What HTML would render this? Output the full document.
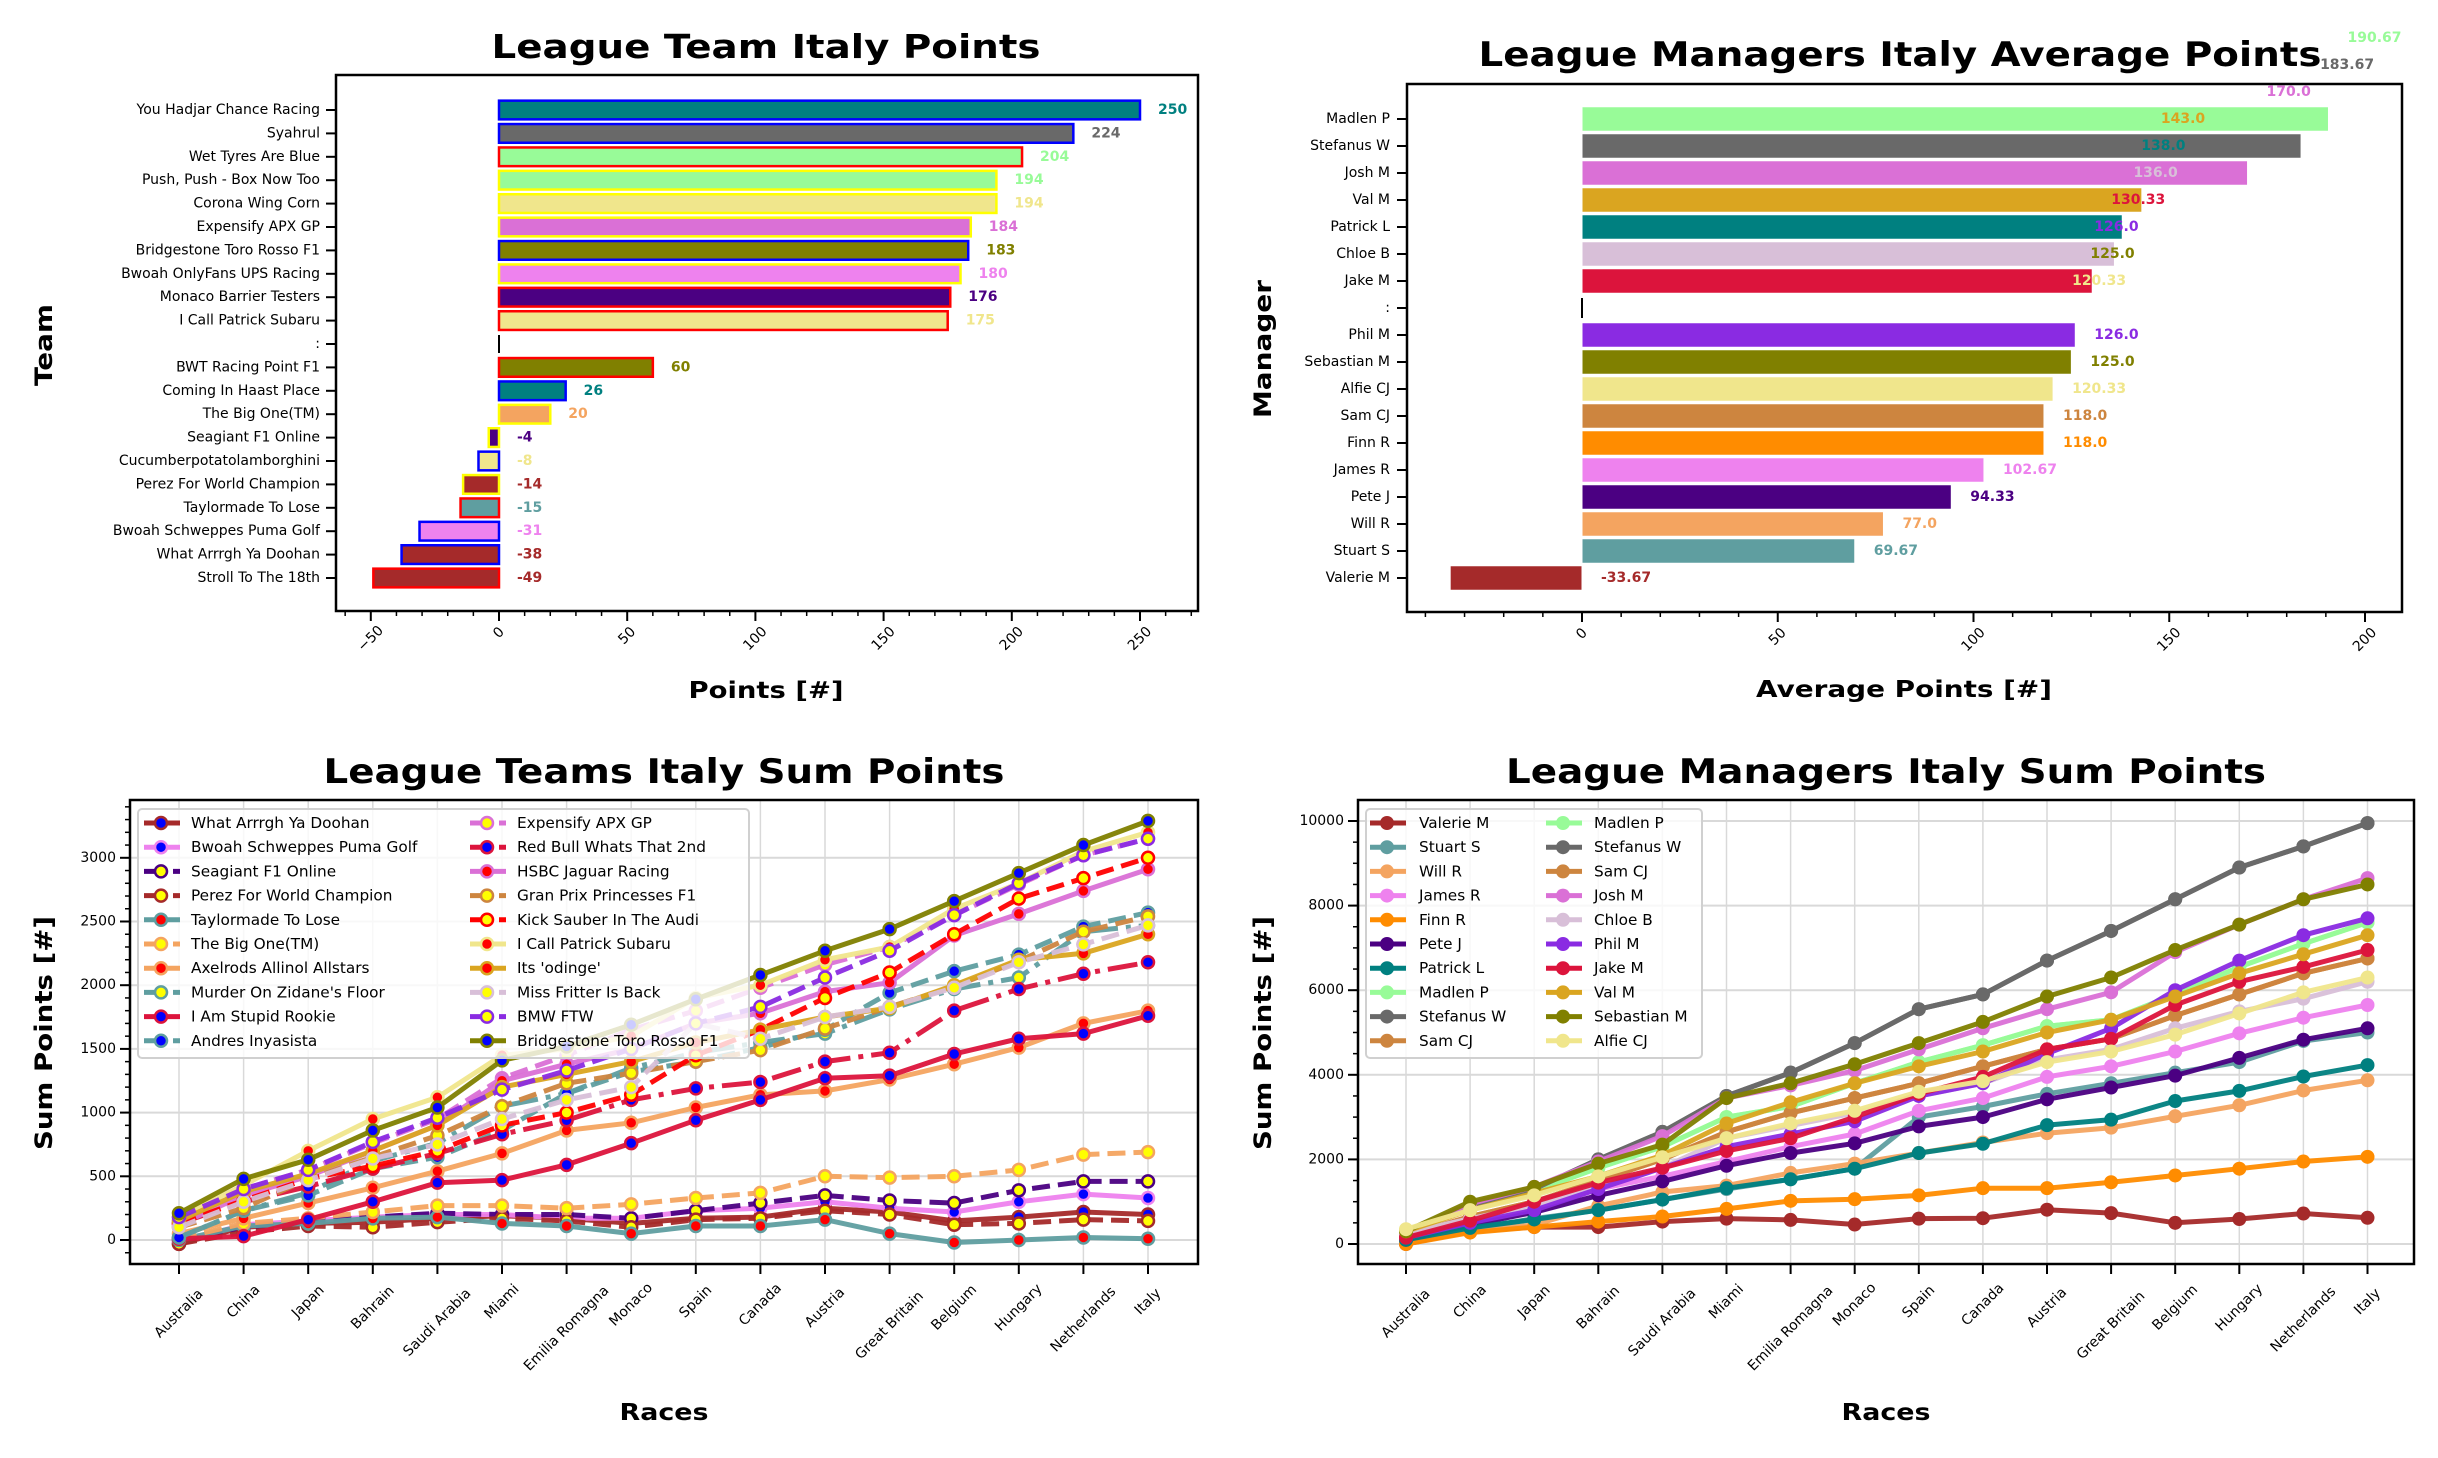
<!DOCTYPE html>
<html><head><meta charset="utf-8">
<style>
html,body{margin:0;padding:0;background:#fff;}
svg{display:block;}
text{font-family:"DejaVu Sans","Liberation Sans",sans-serif;}
</style></head>
<body>
<svg id="s" width="2438" height="1458" xmlns="http://www.w3.org/2000/svg"></svg>
<script>
const S=document.getElementById('s');let H='';
function t(x,y,s,o){o=o||{};let a=`<text x="${x}" y="${y}" font-size="${o.fs||14}"`;
 if(o.fw)a+=` font-weight="${o.fw}"`; if(o.a)a+=` text-anchor="${o.a}"`; if(o.fill)a+=` fill="${o.fill}"`;
 if(o.db)a+=` dominant-baseline="${o.db}"`; if(o.tl)a+=` textLength="${o.tl}" lengthAdjust="spacingAndGlyphs"`;
 if(o.rot!==undefined)a+=` transform="rotate(${o.rot} ${x} ${y})"`;
 H+=a+`>${s}</text>`;}
function l(x1,y1,x2,y2,c,w,extra){H+=`<line x1="${x1}" y1="${y1}" x2="${x2}" y2="${y2}" stroke="${c}" stroke-width="${w}" ${extra||''}/>`;}
function r(x,y,w,h,f,st,sw){H+=`<rect x="${x}" y="${y}" width="${w}" height="${h}" fill="${f}" ${st?`stroke="${st}" stroke-width="${sw}"`:''}/>`;}
function rotLabel(x,top,s){const w=s.length*8.4,h=14;const bh=(w+h)*0.707;t(x,top+bh/2,s,{a:'middle',db:'central',rot:-45,fs:14});}

// ---------- Top-left ----------
{const L=336,R=1198,T=75,B=611,x0=499,u=2.564;
 const d=[["You Hadjar Chance Racing",250,"teal","blue"],["Syahrul",224,"dimgray","blue"],["Wet Tyres Are Blue",204,"palegreen","red"],["Push, Push - Box Now Too",194,"palegreen","yellow"],["Corona Wing Corn",194,"khaki","yellow"],["Expensify APX GP",184,"orchid","yellow"],["Bridgestone Toro Rosso F1",183,"olive","blue"],["Bwoah OnlyFans UPS Racing",180,"violet","yellow"],["Monaco Barrier Testers",176,"indigo","red"],["I Call Patrick Subaru",175,"khaki","red"],[":",0,null,null],["BWT Racing Point F1",60,"olive","red"],["Coming In Haast Place",26,"teal","blue"],["The Big One(TM)",20,"sandybrown","yellow"],["Seagiant F1 Online",-4,"indigo","yellow"],["Cucumberpotatolamborghini",-8,"khaki","blue"],["Perez For World Champion",-14,"brown","yellow"],["Taylormade To Lose",-15,"cadetblue","red"],["Bwoah Schweppes Puma Golf",-31,"violet","blue"],["What Arrrgh Ya Doohan",-38,"brown","blue"],["Stroll To The 18th",-49,"brown","red"]];
 d.forEach((e,i)=>{const y=110+i*23.4;const h=18.7;
  if(e[2]){const xa=Math.min(x0,x0+e[1]*u),w=Math.abs(e[1]*u);r(xa,y-h/2,w,h,e[2],e[3],2.5);
   t(e[1]>=0?x0+e[1]*u+18:x0+18,y,e[1],{fs:14,fw:'bold',fill:e[2],db:'central'});}
  else l(x0,y-9,x0,y+9,'#000',2);
  l(326,y,336,y,'#000',2);t(320,y,e[0],{a:'end',db:'central',fs:14});});
 r(L,T,R-L,B-T,'none','#000',2.5);
 for(let v=-60;v<=270;v+=10){const x=x0+v*u;if(x<L||x>R)continue;const M=v%50===0;l(x,B,x,B+(M?10:5),'#000',M?2:1.5);if(M)rotLabel(x,B+14,String(v).replace('-','−'));}
 t(766,58,"League Team Italy Points",{fs:33,fw:'bold',a:'middle',tl:549});
 t(766,698,"Points [#]",{fs:23,fw:'bold',a:'middle',tl:155});
 t(52,345,"Team",{fs:24,fw:'bold',a:'middle',rot:-90,tl:82});
}
// ---------- Top-right ----------
{const L=1407,R=2402,T=84,B=612,x0=1582,u=3.915,sp=27;
 const d=[["Madlen P",190.67,"palegreen"],["Stefanus W",183.67,"dimgray"],["Josh M",170.0,"orchid"],["Val M",143.0,"goldenrod"],["Patrick L",138.0,"teal"],["Chloe B",136.0,"thistle"],["Jake M",130.33,"crimson"],[":",0,null],["Phil M",126.0,"blueviolet"],["Sebastian M",125.0,"olive"],["Alfie CJ",120.33,"khaki"],["Sam CJ",118.0,"peru"],["Finn R",118.0,"darkorange"],["James R",102.67,"violet"],["Pete J",94.33,"indigo"],["Will R",77.0,"sandybrown"],["Stuart S",69.67,"cadetblue"],["Valerie M",-33.67,"brown"]];
 d.forEach((e,i)=>{const y=119+i*sp,h=24.5;
  if(e[2]){const xa=Math.min(x0,x0+e[1]*u),w=Math.abs(e[1]*u);r(xa,y-h/2,w,h,e[2],'#fff',1);}
  else l(x0,y-10,x0,y+10,'#000',2);
  l(1397,y,1407,y,'#000',2);t(1390,y,e[0],{a:'end',db:'central',fs:14});});
 const top=[["190.67",190.67,"palegreen"],["183.67",183.67,"dimgray"],["170.0",170,"orchid"],["143.0",143,"goldenrod"],["138.0",138,"teal"],["136.0",136,"thistle"],["130.33",130.33,"crimson"],["126.0",126,"blueviolet"],["125.0",125,"olive"],["120.33",120.33,"khaki"]];
 top.forEach((e,i)=>t(x0+e[1]*u+19,119+(i-3)*sp,e[0],{fs:14,fw:'bold',fill:e[2],db:'central'}));
 const low=[[8,"126.0"],[9,"125.0"],[10,"120.33"],[11,"118.0"],[12,"118.0"],[13,"102.67"],[14,"94.33"],[15,"77.0"],[16,"69.67"],[17,"-33.67"]];
 low.forEach(([i,s])=>{const e=d[i];const y=119+i*sp;t(e[1]>=0?x0+e[1]*u+19:x0+19,y,s,{fs:14,fw:'bold',fill:e[2],db:'central'});});
 r(L,T,R-L,B-T,'none','#000',2.5);
 for(let v=-40;v<=210;v+=10){const x=x0+v*u;if(x<L||x>R)continue;const M=v%50===0;l(x,B,x,B+(M?10:5),'#000',M?2:1.5);if(M)rotLabel(x,B+14,String(v));}
 t(1900,66,"League Managers Italy Average Points",{fs:34,fw:'bold',a:'middle',tl:843});
 t(1904,697,"Average Points [#]",{fs:23,fw:'bold',a:'middle',tl:296});
 t(1271,349,"Manager",{fs:24,fw:'bold',a:'middle',rot:-90,tl:138});
}
const races=["Australia","China","Japan","Bahrain","Saudi Arabia","Miami","Emilia Romagna","Monaco","Spain","Canada","Austria","Great Britain","Belgium","Hungary","Netherlands","Italy"];
function dash(ls){return ls==='--'?'stroke-dasharray="18,8"':ls==='-.'?'stroke-dasharray="30,8,5,8"':'';}
function lineChart(cfg){
 const {L,R,T,B,xs,xd,y0,yu,series,yt,ymin,ymax,minor,leg}=cfg;
 H+=`<clipPath id="${cfg.id}"><rect x="${L}" y="${T}" width="${R-L}" height="${B-T}"/></clipPath>`;
 races.forEach((n,i)=>{const x=xs+i*xd;l(x,T,x,B,'#d9d9d9',1.5);});
 yt.forEach(v=>{const y=y0-v*yu;l(L,y,R,y,'#d9d9d9',2);});
 H+=`<g clip-path="url(#${cfg.id})">`;
 series.forEach(sr=>{const pts=sr.v.map((v,i)=>`${(xs+i*xd).toFixed(1)},${(y0-v*yu).toFixed(1)}`).join(' ');
  H+=`<polyline points="${pts}" fill="none" stroke="${sr.c}" stroke-width="5" stroke-linejoin="round" ${dash(sr.ls)} opacity="0.95"/>`;
  sr.v.forEach((v,i)=>{H+=`<circle cx="${xs+i*xd}" cy="${y0-v*yu}" r="${sr.r||6}" fill="${sr.mf||sr.c}" stroke="${sr.c}" stroke-width="${sr.mf?2.5:0}"/>`;});});
 H+='</g>';
 r(L,T,R-L,B-T,'none','#000',2.5);
 for(let v=ymin;v<=ymax;v+=minor){const y=y0-v*yu;if(y<T||y>B)continue;l(L-5,y,L,y,'#000',1.5);}
 yt.forEach(v=>{const y=y0-v*yu;l(L-10,y,L,y,'#000',2);t(L-14,y,v,{a:'end',db:'central',fs:14});});
 races.forEach((n,i)=>{const x=xs+i*xd;l(x,B,x,B+10,'#000',2);rotLabel(x,B+18,n);});
 H+=`<rect x="${leg.x}" y="809" width="${leg.w}" height="249" rx="4" fill="#fff" fill-opacity="0.8" stroke="#d0d0d0" stroke-width="2"/>`;
 series.forEach((sr,i)=>{const col=i<10?0:1,row=i%10;const hx=leg.hx[col],tx=leg.tx[col],y=823+row*24.2;
  H+=`<line x1="${hx}" y1="${y}" x2="${hx+36}" y2="${y}" stroke="${sr.c}" stroke-width="5" ${sr.ls==='-'?'':'stroke-dasharray="22,7"'}/>`;
  H+=`<circle cx="${hx+17}" cy="${y}" r="${sr.r||6}" fill="${sr.mf||sr.c}" stroke="${sr.c}" stroke-width="${sr.mf?2.5:0}"/>`;
  t(tx,y,sr.n,{db:'central',fs:15.3});});
}
// ---------- Bottom-left ----------
{const T=[
["What Arrrgh Ya Doohan","brown","-","blue",[-30,100,130,140,170,190,170,130,170,180,250,220,150,180,220,200]],
["Bwoah Schweppes Puma Golf","violet","-","blue",[-20,120,150,180,200,200,170,170,230,250,300,250,220,300,360,330]],
["Seagiant F1 Online","indigo","--","yellow",[0,100,150,180,210,200,200,170,230,290,350,310,290,390,460,460]],
["Perez For World Champion","brown","--","yellow",[-30,60,110,100,140,170,150,100,160,170,230,200,120,130,160,150]],
["Taylormade To Lose","cadetblue","-","red",[0,110,130,170,180,130,110,50,110,110,160,50,-20,0,20,10]],
["The Big One(TM)","sandybrown","--","yellow",[10,130,170,220,270,270,250,280,330,370,500,490,500,550,670,690]],
["Axelrods Allinol Allstars","sandybrown","-","red",[50,170,290,410,540,680,860,920,1040,1140,1170,1260,1380,1510,1700,1800]],
["Murder On Zidane's Floor","cadetblue","-.","yellow",[20,230,370,620,760,1050,1150,1350,1470,1550,1620,1810,1970,2060,2420,2470]],
["I Am Stupid Rookie","crimson","-","blue",[10,30,160,300,450,470,590,760,940,1100,1270,1290,1460,1580,1620,1760]],
["Andres Inyasista","cadetblue","--","blue",[20,230,350,560,650,860,1150,1320,1400,1510,1650,1940,2110,2240,2460,2570]],
["Expensify APX GP","orchid","--","yellow",[150,400,550,760,950,1270,1450,1650,1800,1980,2160,2300,2550,2790,3020,3150]],
["Red Bull Whats That 2nd","crimson","-.","blue",[130,300,420,560,680,830,940,1100,1190,1240,1400,1470,1800,1970,2090,2180]],
["HSBC Jaguar Racing","orchid","-","red",[120,350,500,700,900,1250,1380,1500,1700,1780,1950,2020,2390,2560,2740,2910]],
["Gran Prix Princesses F1","peru","--","yellow",[100,250,480,650,820,1050,1230,1310,1400,1490,1660,1830,1990,2190,2420,2540]],
["Kick Sauber In The Audi","red","--","yellow",[130,310,480,580,700,900,1000,1140,1450,1650,1900,2100,2400,2680,2840,3000]],
["I Call Patrick Subaru","khaki","-","red",[180,430,700,950,1120,1450,1500,1600,1900,2000,2200,2300,2600,2800,3050,3200]],
["Its 'odinge'","goldenrod","-","red",[150,380,520,700,900,1200,1300,1400,1550,1650,1750,1820,2000,2200,2250,2400]],
["Miss Fritter Is Back","thistle","--","yellow",[100,300,470,640,750,950,1100,1200,1700,1580,1750,1830,1980,2180,2320,2470]],
["BMW FTW","blueviolet","--","yellow",[180,400,550,770,960,1180,1330,1500,1700,1830,2060,2270,2550,2800,3020,3150]],
["Bridgestone Toro Rosso F1","olive","-","blue",[210,480,630,860,1040,1410,1520,1690,1890,2080,2270,2440,2660,2880,3100,3290]]];
 const series=T.map(e=>({n:e[0],c:e[1],ls:e[2],mf:e[3],v:e[4]}));
 lineChart({id:'c1',L:130,R:1198,T:800,B:1264,xs:179,xd:64.6,y0:1240,yu:63.7/500,series,yt:[0,500,1000,1500,2000,2500,3000],ymin:-300,ymax:3500,minor:100,
  leg:{x:138,w:611,hx:[144,470],tx:[191,517]}});
 t(664,783,"League Teams Italy Sum Points",{fs:34,fw:'bold',a:'middle',tl:681});
 t(664,1420,"Races",{fs:23,fw:'bold',a:'middle',tl:89});
 t(52,1033,"Sum Points [#]",{fs:24,fw:'bold',a:'middle',rot:-90,tl:234});
}
// ---------- Bottom-right ----------
{const M=[
["Valerie M","brown",[0,300,400,400,530,600,570,460,600,610,810,730,500,590,720,620]],
["Stuart S","cadetblue",[100,350,600,800,1050,1300,1530,1780,3000,3250,3550,3800,4050,4300,4800,5000]],
["Will R","sandybrown",[50,300,450,900,1230,1380,1680,1900,2150,2400,2620,2750,3020,3280,3630,3870]],
["James R","violet",[150,500,800,1300,1600,1950,2300,2600,3150,3450,3950,4200,4550,4980,5350,5650]],
["Finn R","darkorange",[0,270,400,530,650,830,1020,1060,1150,1320,1320,1460,1620,1780,1950,2060]],
["Pete J","indigo",[100,450,750,1150,1480,1850,2150,2380,2780,3000,3420,3700,3980,4400,4830,5100]],
["Patrick L","teal",[100,380,580,800,1050,1320,1530,1780,2150,2370,2810,2940,3380,3620,3960,4230]],
["Madlen P","palegreen",[250,850,1250,1800,2300,3000,3250,3800,4300,4700,5150,5300,5900,6550,7100,7600]],
["Stefanus W","dimgray",[250,900,1300,2000,2650,3500,4050,4750,5550,5900,6700,7400,8150,8900,9400,9950]],
["Sam CJ","peru",[200,650,1000,1500,2000,2650,3100,3450,3800,4200,4600,4850,5400,5900,6400,6750]],
["Madlen P","palegreen",[250,850,1250,1800,2300,3000,3250,3800,4300,4700,5150,5300,5900,6550,7100,7600]],
["Stefanus W","dimgray",[250,900,1300,2000,2650,3500,4050,4750,5550,5900,6700,7400,8150,8900,9400,9950]],
["Sam CJ","peru",[200,650,1000,1500,2000,2650,3100,3450,3800,4200,4600,4850,5400,5900,6400,6750]],
["Josh M","orchid",[250,950,1350,1950,2550,3450,3750,4100,4600,5100,5550,5950,6900,7550,8150,8650]],
["Chloe B","thistle",[250,600,900,1350,1800,2500,2800,3100,3500,3800,4350,4600,5100,5500,5800,6200]],
["Phil M","blueviolet",[150,500,800,1300,1800,2300,2600,2900,3500,3800,4500,5100,6000,6700,7300,7700]],
["Jake M","crimson",[150,550,1000,1450,1800,2200,2500,3000,3550,3950,4600,4850,5650,6200,6550,6950]],
["Val M","goldenrod",[300,800,1200,1600,2100,2850,3350,3800,4200,4550,5000,5300,5850,6400,6850,7300]],
["Sebastian M","olive",[300,1000,1350,1900,2350,3450,3800,4250,4750,5250,5850,6300,6950,7550,8150,8500]],
["Alfie CJ","khaki",[350,800,1150,1600,2050,2500,2850,3150,3600,3850,4300,4550,4950,5450,5950,6300]]];
 const series=M.map(e=>({n:e[0],c:e[1],ls:'-',v:e[2],r:7}));
 lineChart({id:'c2',L:1358,R:2414,T:800,B:1264,xs:1406,xd:64.1,y0:1244,yu:84.6/2000,series,yt:[0,2000,4000,6000,8000,10000],ymin:-500,ymax:10500,minor:500,
  leg:{x:1366,w:336,hx:[1370,1546],tx:[1419,1594]}});
 t(1886,783,"League Managers Italy Sum Points",{fs:34,fw:'bold',a:'middle',tl:760});
 t(1886,1420,"Races",{fs:23,fw:'bold',a:'middle',tl:89});
 t(1271,1033,"Sum Points [#]",{fs:24,fw:'bold',a:'middle',rot:-90,tl:234});
}
S.innerHTML=H;
</script>
</body></html>
